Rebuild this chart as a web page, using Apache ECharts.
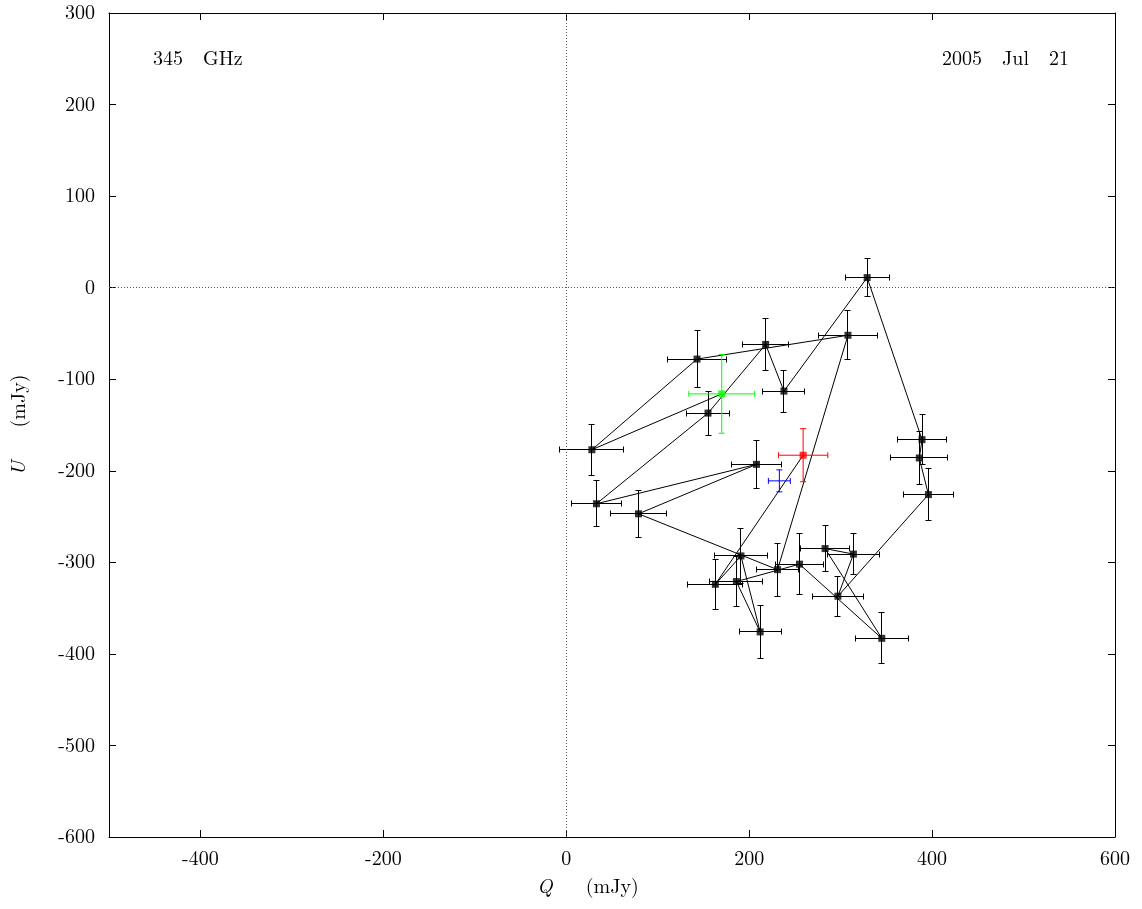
<!DOCTYPE html>
<html>
<head>
<meta charset="utf-8">
<script src="https://cdn.jsdelivr.net/npm/echarts@6/dist/echarts.min.js"></script>
<style>
html,body{margin:0;padding:0;background:#fff;}
#chart{width:1142px;height:909px;}
</style>
</head>
<body>
<div id="chart"></div>
<script>
// Data points in time order (Q, U in mJy) with errors
const pathQ  = [28, 143, 308, 231, 79, 208, 33, 155, 218, 238, 329, 389, 386, 396, 297, 314, 283, 345, 255, 186, 212, 191, 163];
const pathU  = [-177, -78, -52, -308, -247, -193, -236, -137, -62, -113, 11, -166, -186, -226, -337, -291, -285, -383, -302, -321, -376, -293, -324];
const pathDQ = [35, 32, 32, 23, 31, 27, 27, 23, 25, 23, 24, 27, 31, 27, 28, 28, 27, 29, 26, 29, 23, 29, 30];
const pathDU = [28, 31, 27, 29, 26, 26, 25, 24, 28, 23, 21, 27, 29, 28, 22, 22, 25, 28, 33, 27, 29, 30, 27];
// first point (green), last point (red), mean (blue): [Q, U, dQ, dU]
const firstPt = [170, -116, 36, 43];
const lastPt  = [259, -183, 27, 29];
const meanPt  = [233, -211, 12, 12];
// axis ticks
const xTicks = [-400, -200, 0, 200, 400, 600];
const yTicks = [300, 200, 100, 0, -100, -200, -300, -400, -500, -600];

const pts = pathQ.map((q, i) => [q, pathU[i], pathDQ[i], pathDU[i]]);
const lineData = [[firstPt[0], firstPt[1]]].concat(pts.map(p => [p[0], p[1]])).concat([[lastPt[0], lastPt[1]]]);

const SERIF = '"Latin Modern Roman","CMU Serif","Liberation Serif","DejaVu Serif",serif';

function crisp(v) { return Math.round(v - 0.5) + 0.5; }
function ident(v) { return v; }

function errRender(color, snap) {
  const f = snap ? crisp : ident;
  return function (params, api) {
    const q = api.value(0), u = api.value(1), dq = api.value(2), du = api.value(3);
    const l = api.coord([q - dq, u]), r = api.coord([q + dq, u]);
    const t = api.coord([q, u + du]), b = api.coord([q, u - du]);
    const c = 3;
    const hy = f(l[1]), vx = f(t[0]);
    const lx = f(l[0]), rx = f(r[0]), ty = f(t[1]), by = f(b[1]);
    const d = [
      'M', lx, hy, 'L', rx, hy,
      'M', lx, hy - c, 'L', lx, hy + c,
      'M', rx, hy - c, 'L', rx, hy + c,
      'M', vx, ty, 'L', vx, by,
      'M', vx - c, ty, 'L', vx + c, ty,
      'M', vx - c, by, 'L', vx + c, by
    ].join(' ');
    return {
      type: 'path',
      shape: { pathData: d },
      style: { stroke: color, fill: 'none', lineWidth: 1 }
    };
  };
}

const axisCommon = {
  type: 'value',
  splitLine: { show: false },
  axisLine: { show: true, onZero: false, lineStyle: { color: '#000', width: 1 } },
  axisTick: { show: true, inside: true, length: 7, lineStyle: { color: '#000', width: 1 } }
};

const titleRich = { i: { fontStyle: 'italic', fontFamily: SERIF, fontSize: 20, color: '#000' } };

const chart = echarts.init(document.getElementById('chart'), null, { renderer: 'canvas' });
chart.setOption({
  animation: false,
  backgroundColor: '#fff',
  grid: { left: 109, right: 27, top: 13, bottom: 72, containLabel: false, outerBoundsMode: 'none' },
  xAxis: [
    Object.assign({}, axisCommon, {
      position: 'bottom', min: -500, max: 600,
      name: '{i|Q}     (mJy)', nameLocation: 'middle', nameGap: 40,
      nameTextStyle: { fontFamily: SERIF, fontSize: 20, color: '#000', rich: titleRich, padding: [0, 48, 0, 0] },
      axisTick: Object.assign({}, axisCommon.axisTick, { customValues: xTicks }),
      axisLabel: { customValues: xTicks, fontFamily: SERIF, fontSize: 20, color: '#000', margin: 12 }
    }),
    Object.assign({}, axisCommon, {
      position: 'top', min: -500, max: 600,
      axisTick: Object.assign({}, axisCommon.axisTick, { customValues: xTicks }),
      axisLabel: { show: false }
    })
  ],
  yAxis: [
    Object.assign({}, axisCommon, {
      position: 'left', min: -600, max: 300, interval: 100,
      name: '{i|U}     (mJy)', nameLocation: 'middle', nameGap: 80, nameRotate: 90,
      nameTextStyle: { fontFamily: SERIF, fontSize: 20, color: '#000', rich: titleRich },
      axisTick: Object.assign({}, axisCommon.axisTick, { customValues: yTicks }),
      axisLabel: { customValues: yTicks, fontFamily: SERIF, fontSize: 20, color: '#000', margin: 14 }
    }),
    Object.assign({}, axisCommon, {
      position: 'right', min: -600, max: 300, interval: 100,
      axisTick: Object.assign({}, axisCommon.axisTick, { customValues: yTicks }),
      axisLabel: { show: false }
    })
  ],
  graphic: [
    { type: 'text', left: 153, top: 49, style: { text: '345   GHz', font: '20px ' + SERIF, fill: '#000' } },
    { type: 'text', right: 1142 - 1069, top: 49, style: { text: '2005   Jul   21', font: '20px ' + SERIF, fill: '#000', textAlign: 'right' } }
  ],
  series: [
    {
      type: 'line', data: [], xAxisIndex: 0, yAxisIndex: 0, silent: true,
      markLine: {
        silent: true, symbol: 'none', label: { show: false },
        lineStyle: { color: '#555', type: [1, 2], width: 1 },
        data: [{ xAxis: 0 }, { yAxis: 0 }]
      }
    },
    {
      type: 'custom', renderItem: errRender('#000', true), data: pts, z: 2,
      encode: { x: 0, y: 1 }, silent: true
    },
    {
      type: 'line', data: lineData, symbol: 'none', z: 3,
      lineStyle: { color: '#000', width: 1 }, silent: true
    },
    {
      type: 'scatter', data: pts.map(p => [p[0], p[1]]), symbol: 'rect', symbolSize: 7, z: 4,
      itemStyle: { color: '#000' }, silent: true
    },
    {
      type: 'custom', renderItem: errRender('#00ff00', false), data: [firstPt], z: 5,
      encode: { x: 0, y: 1 }, silent: true
    },
    {
      type: 'scatter', data: [[firstPt[0], firstPt[1]]], symbol: 'rect', symbolSize: 7, z: 6,
      itemStyle: { color: '#00ff00' }, silent: true
    },
    {
      type: 'custom', renderItem: errRender('#ff0000', false), data: [lastPt], z: 5,
      encode: { x: 0, y: 1 }, silent: true
    },
    {
      type: 'scatter', data: [[lastPt[0], lastPt[1]]], symbol: 'rect', symbolSize: 7, z: 6,
      itemStyle: { color: '#ff0000' }, silent: true
    },
    {
      type: 'custom', renderItem: errRender('#0000ff', false), data: [meanPt], z: 5,
      encode: { x: 0, y: 1 }, silent: true
    }
  ]
});
</script>
</body>
</html>
